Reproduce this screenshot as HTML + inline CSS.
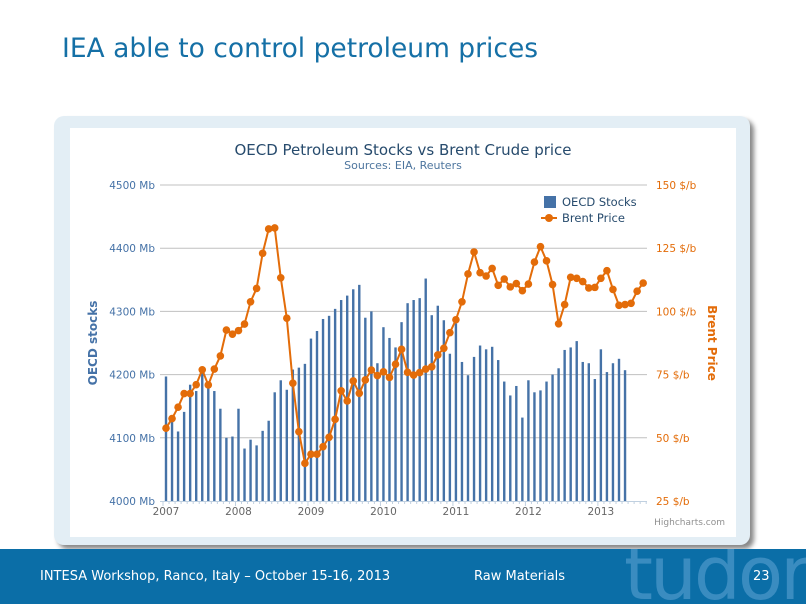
<!DOCTYPE html>
<html><head><meta charset="utf-8"><style>
body{margin:0;width:806px;height:604px;overflow:hidden;background:#fff;font-family:"DejaVu Sans","Liberation Sans",sans-serif;position:relative}
#title{position:absolute;left:62px;top:33px;font-size:26.5px;color:#1570a6}
#box{position:absolute;left:54px;top:116px;width:696px;height:429px;background:#e3eef5;border-radius:10px;box-shadow:4px 4px 5px #888}
#inner{position:absolute;left:16px;top:12px;width:666px;height:409px;background:#fff}
#footer{position:absolute;left:0;top:549px;width:806px;height:55px;background:#0b6ea7;color:#fff;font-size:13px;overflow:hidden}
</style></head><body>
<div id="title">IEA able to control petroleum prices</div>
<div id="box"><div id="inner"></div></div>
<svg id="chart" width="806" height="604" style="position:absolute;left:0;top:0" font-family="DejaVu Sans, Liberation Sans, sans-serif"></svg>
<div id="footer">
<div style="position:absolute;left:624px;top:-18px;font-size:74px;letter-spacing:-3px;color:#3a8cc0;font-family:'DejaVu Sans',sans-serif">tudor</div>
<span style="position:absolute;left:40px;top:20px">INTESA Workshop, Ranco, Italy – October 15-16, 2013</span>
<span style="position:absolute;left:474px;top:20px">Raw Materials</span>
<span style="position:absolute;left:753px;top:20px">23</span>
</div>
<script>
const stocks=[4197,4128,4110,4141,4184,4174,4203,4181,4174,4146,4100,4102,4146,4083,4097,4088,4111,4127,4172,4191,4176,4208,4211,4217,4257,4269,4288,4293,4304,4318,4325,4335,4342,4290,4300,4218,4275,4258,4243,4283,4313,4318,4321,4352,4294,4309,4286,4233,4281,4220,4199,4228,4246,4240,4244,4223,4189,4167,4182,4132,4191,4172,4175,4189,4200,4210,4239,4243,4253,4220,4218,4193,4240,4204,4218,4225,4207];
const brent=[53.8,57.6,62.1,67.5,67.5,71,76.9,70.9,77.2,82.4,92.6,91,92.4,95,103.8,109.1,123,132.6,133,113.3,97.3,71.6,52.4,39.9,43.5,43.5,46.5,50.2,57.3,68.6,64.6,72.5,67.6,72.9,76.8,74.6,76.1,73.9,79.1,85,75.9,74.8,75.8,77.2,78.1,82.8,85.4,91.6,96.7,103.8,114.8,123.5,115.3,114,117,110.3,112.8,109.7,111,108.2,110.8,119.5,125.6,120,110.6,95.1,102.7,113.5,113.1,111.8,109.3,109.5,113.1,116.1,108.7,102.4,102.7,103.2,108,111.2];
const leftTicks=[4000,4100,4200,4300,4400,4500];
const rightTicks=[25,50,75,100,125,150];
const years=[2007,2008,2009,2010,2011,2012,2013];
const svg=document.getElementById('chart');const NS='http://www.w3.org/2000/svg';
function mk(t,a,p){const e=document.createElementNS(NS,t);for(const k in a)e.setAttribute(k,a[k]);(p||svg).appendChild(e);return e;}
const pTop=185,pBot=501,pLeft=160,pRight=647;
const x0=166,monthW=6.04;
const xM=i=>x0+i*monthW;
const yL=v=>pBot-(v-4000)/500*(pBot-pTop);
const yR=v=>pBot-(v-25)/125*(pBot-pTop);
let e;
e=mk('text',{x:403,y:155,'text-anchor':'middle','font-size':15,fill:'#274b6d'});e.textContent='OECD Petroleum Stocks vs Brent Crude price';


e=mk('text',{x:403,y:169,'text-anchor':'middle','font-size':11,fill:'#4d759e'});e.textContent='Sources: EIA, Reuters';


leftTicks.forEach((v,i)=>{
 if(i>0){e=mk('line',{x1:pLeft,x2:pRight,y1:yL(v),y2:yL(v),stroke:'#c0c0c0','stroke-width':1});
 
 }
 e=mk('text',{x:155,y:yL(v)+4,'text-anchor':'end','font-size':10.5,fill:'#4572a7'});e.textContent=v+' Mb';
 
 
});
rightTicks.forEach(v=>{
 e=mk('text',{x:656,y:yR(v)+4,'font-size':10.5,fill:'#e36c09'});e.textContent=v+' $/b';
 
 
});
e=mk('line',{x1:pLeft,x2:pRight,y1:pBot+0.5,y2:pBot+0.5,stroke:'#c0d0e0'});


for(let i=0;i<=80;i++){e=mk('line',{x1:xM(i)-3,x2:xM(i)-3,y1:pBot,y2:pBot+(i%12==0?5:3),stroke:'#c0d0e0'});

}
years.forEach((y,i)=>{e=mk('text',{x:xM(i*12),y:515,'text-anchor':'middle','font-size':10.5,fill:'#666'});e.textContent=y;

});
stocks.forEach((v,i)=>{e=mk('rect',{x:xM(i)-1.2,y:yL(v),width:2.4,height:pBot-yL(v),fill:'#4572a7'});

});
e=mk('polyline',{points:brent.map((v,i)=>xM(i)+','+yR(v)).join(' '),fill:'none',stroke:'#e36c09','stroke-width':2});


brent.forEach((v,i)=>{e=mk('circle',{cx:xM(i),cy:yR(v),r:3.8,fill:'#e36c09'});

});
e=mk('text',{transform:'translate(97,343) rotate(-90)','text-anchor':'middle','font-size':12,'font-weight':'bold',fill:'#4572a7'});e.textContent='OECD stocks';


e=mk('text',{transform:'translate(708,343) rotate(90)','text-anchor':'middle','font-size':12,'font-weight':'bold',fill:'#e36c09'});e.textContent='Brent Price';


e=mk('rect',{x:544,y:196,width:12,height:12,fill:'#4572a7'});


e=mk('text',{x:562,y:206,'font-size':11.5,fill:'#274b6d'});e.textContent='OECD Stocks';


e=mk('line',{x1:541,x2:557,y1:218,y2:218,stroke:'#e36c09','stroke-width':2});


e=mk('circle',{cx:549,cy:218,r:4,fill:'#e36c09'});


e=mk('text',{x:562,y:222,'font-size':11.5,fill:'#274b6d'});e.textContent='Brent Price';


e=mk('text',{x:725,y:525,'text-anchor':'end','font-size':9,fill:'#909090'});e.textContent='Highcharts.com';


</script>
</body></html>
